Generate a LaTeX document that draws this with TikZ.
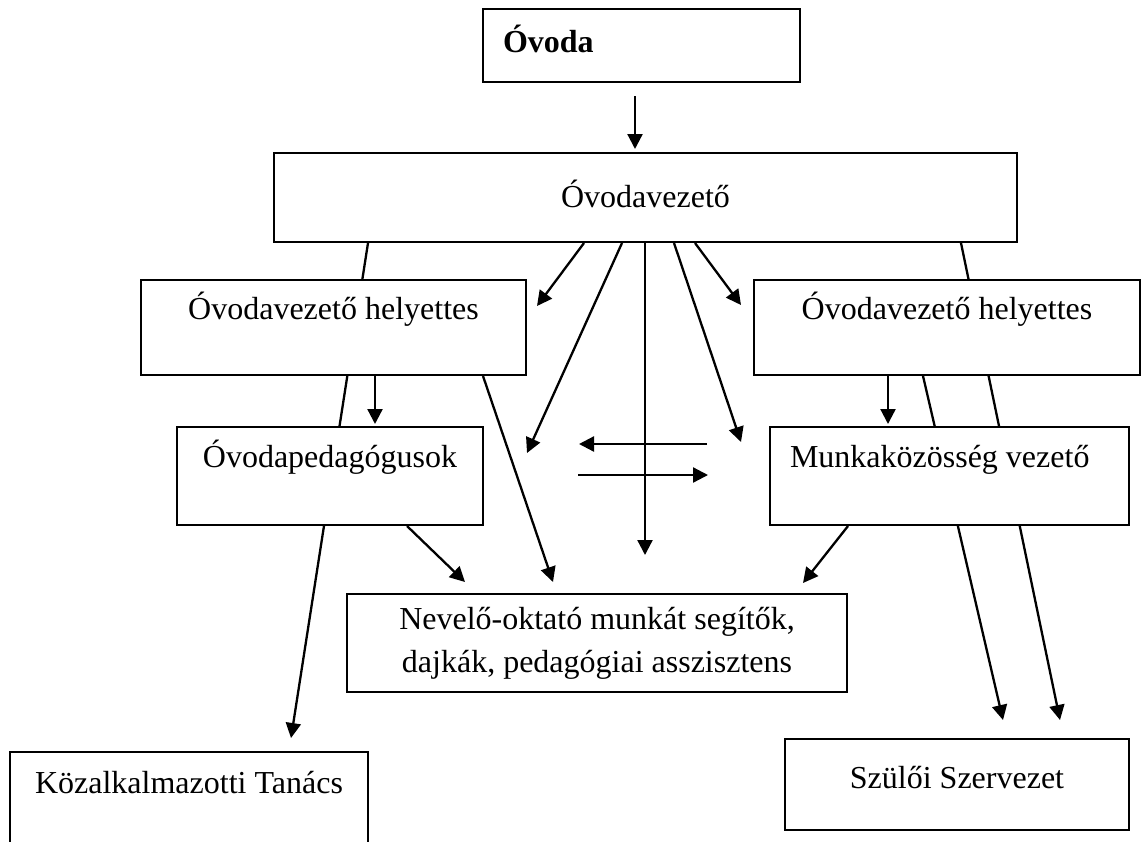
\documentclass[tikz,border=0pt]{standalone}
\usepackage{fontspec}
\setmainfont{Liberation Serif}
\usepackage{tikz}
\usetikzlibrary{arrows.meta}
\usetikzlibrary{backgrounds}

\tikzset{
    doboz/.style={draw, fill=white, line width=2pt, inner sep=0pt, font=\fontsize{32}{43}\selectfont},
    nyil/.style={-{Triangle[length=15pt,width=15pt]}, line width=2.3pt}
}

\begin{document}
\begin{tikzpicture}[x=1pt,y=-1pt]
    \path[use as bounding box, clip] (0,0) rectangle (1142,841);

    \node[doboz, text width=277pt, inner xsep=20pt, align=flush left, text height=43pt, text depth=30pt] (ovoda) at (641.5,45.5) {\textbf{Óvoda}};
    \node[doboz, minimum width=743pt, text height=54pt, text depth=35pt] (vezeto) at (645.5,197.5) {Óvodavezető};
    \node[doboz, minimum width=385pt, text height=39pt, text depth=56pt] (helyL) at (333.5,327.5) {Óvodavezető helyettes};
    \node[doboz, minimum width=386pt, text height=39pt, text depth=56pt] (helyR) at (947,327.5) {Óvodavezető helyettes};
    \node[doboz, minimum width=306pt, text height=40pt, text depth=58pt] (pedag) at (330,476) {Óvodapedagógusok};
    \node[doboz, text width=319pt, inner xsep=20pt, align=flush left, text height=40pt, text depth=58pt] (munka) at (949.5,476) {Munkaközösség vezető};
    \node[doboz, minimum width=500pt, minimum height=98pt, align=center] (nevelo) at (597,643) {Nevelő-oktató munkát segítők,\\dajkák, pedagógiai asszisztens};
    \node[doboz, minimum width=358pt, text height=41pt, text depth=80pt] (kozal) at (189,812.5) {Közalkalmazotti Tanács};
    \node[doboz, minimum width=344pt, text height=49pt, text depth=42pt] (szulo) at (957,784.5) {Szülői Szervezet};

    % szabad vegpontok
    \coordinate (v1) at (537,306);
    \coordinate (v2) at (527,453);
    \coordinate (v3) at (645,555);
    \coordinate (v4) at (741,442);
    \coordinate (v5) at (741,305);
    \coordinate (h1) at (707,444);
    \coordinate (h2) at (579,444);
    \coordinate (h3) at (578,475);
    \coordinate (h4) at (708,475);
    \coordinate (n1) at (553,582);
    \coordinate (n2) at (465,582);
    \coordinate (n3) at (803,583);
    \coordinate (k1) at (291,738);
    \coordinate (s1) at (1003,720);
    \coordinate (s2) at (1060,720);

    \draw[nyil, shorten <=13pt, shorten >=3pt] (635,0 |- ovoda.south) -- (635,0 |- vezeto.north);
    \draw[nyil] (584,0 |- vezeto.south) -- (v1);
    \draw[nyil] (622,0 |- vezeto.south) -- (v2);
    \draw[nyil] (645,0 |- vezeto.south) -- (v3);
    \draw[nyil] (674,0 |- vezeto.south) -- (v4);
    \draw[nyil] (695,0 |- vezeto.south) -- (v5);
    \draw[nyil] (h1) -- (h2);
    \draw[nyil] (h3) -- (h4);
    \draw[nyil, shorten >=2pt] (375,0 |- helyL.south) -- (375,0 |- pedag.north);
    \draw[nyil, shorten >=2pt] (888,0 |- helyR.south) -- (888,0 |- munka.north);
    \draw[nyil] (483,0 |- helyL.south) -- (n1);
    \draw[nyil] (407,0 |- pedag.south) -- (n2);
    \draw[nyil] (848,0 |- munka.south) -- (n3);

    % a dobozok mogott futo hosszu nyilak
    \begin{pgfonlayer}{background}
        \draw[nyil] (368,0 |- vezeto.south) -- (k1);
        \draw[nyil] (961,0 |- vezeto.south) -- (s2);
        \draw[nyil] (923,0 |- helyR.south) -- (s1);
    \end{pgfonlayer}
\end{tikzpicture}
\end{document}
